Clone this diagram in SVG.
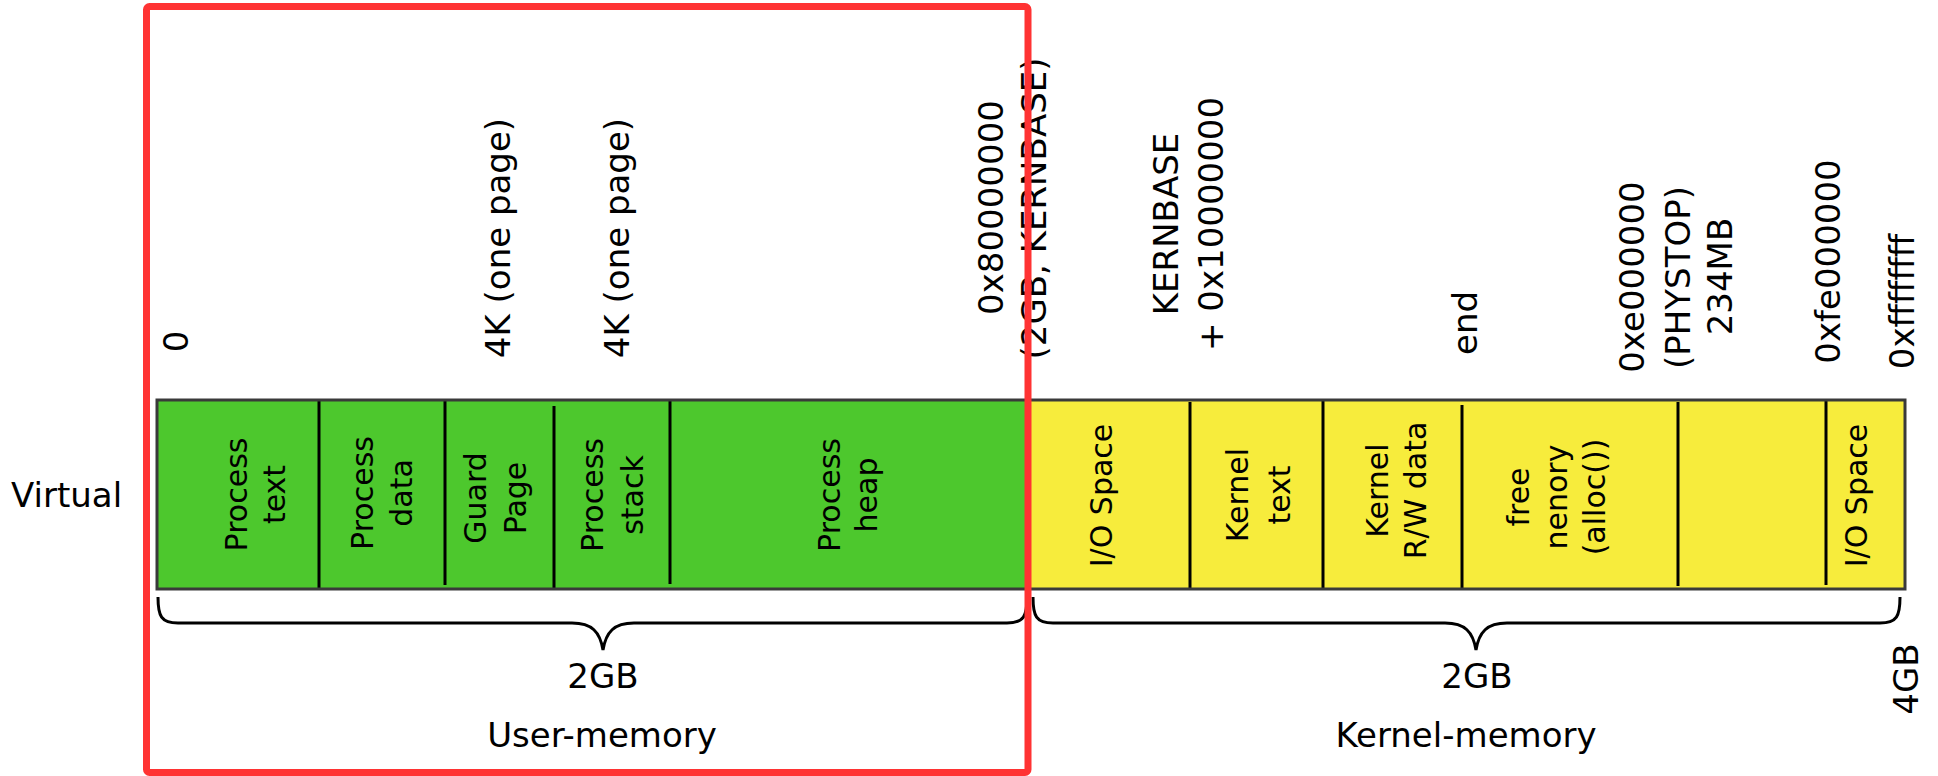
<svg xmlns="http://www.w3.org/2000/svg" width="1938" height="776" viewBox="0 0 1938 776">
<style>
text{font-family:"DejaVu Sans",Verdana,sans-serif;fill:#000}
.lbl{font-size:34px;text-anchor:middle}
.hl{font-size:34px}
.in{font-size:30px;text-anchor:middle}
.dv{stroke:#000;stroke-width:3}
.brace{fill:none;stroke:#000;stroke-width:3}
.user{fill:#4dc82d}
.kern{fill:#f7ec3c}
</style>
<rect width="1938" height="776" fill="#fff"/>

<!-- address labels -->
<g id="addresses">
<text class="lbl" transform="translate(187.5,341.5) rotate(-90)">0</text>
<text class="lbl" transform="translate(510,238) rotate(-90)">4K (one page)</text>
<text class="lbl" transform="translate(629,238) rotate(-90)">4K (one page)</text>
<text class="lbl" transform="translate(1003,207.5) rotate(-90)">0x80000000</text>
<text class="lbl" transform="translate(1046,208.5) rotate(-90)">(2GB, KERNBASE)</text>
<text class="lbl" transform="translate(1178,224) rotate(-90)">KERNBASE</text>
<text class="lbl" transform="translate(1223,224) rotate(-90)">+ 0x10000000</text>
<text class="lbl" transform="translate(1477,323) rotate(-90)">end</text>
<text class="lbl" transform="translate(1644,277) rotate(-90)">0xe000000</text>
<text class="lbl" transform="translate(1690,277.5) rotate(-90)">(PHYSTOP)</text>
<text class="lbl" transform="translate(1732,276.5) rotate(-90)">234MB</text>
<text class="lbl" transform="translate(1840,261.5) rotate(-90)">0xfe000000</text>
<text class="lbl" transform="translate(1914,301.5) rotate(-90)">0xffffffff</text>
</g>

<text id="virtual" class="hl" x="11" y="507">Virtual</text>

<g id="seg-process-text">
<rect class="user" x="157" y="400" width="162" height="189"/>
<text class="in" transform="translate(247,494.5) rotate(-90)">Process</text>
<text class="in" transform="translate(285,494.5) rotate(-90)">text</text>
</g>
<g id="seg-process-data">
<rect class="user" x="319" y="400" width="126" height="189"/>
<text class="in" transform="translate(373,493) rotate(-90)">Process</text>
<text class="in" transform="translate(412,493) rotate(-90)">data</text>
</g>
<g id="seg-guard-page">
<rect class="user" x="445" y="400" width="109" height="189"/>
<text class="in" transform="translate(486,498) rotate(-90)">Guard</text>
<text class="in" transform="translate(526,498) rotate(-90)">Page</text>
</g>
<g id="seg-process-stack">
<rect class="user" x="554" y="400" width="116" height="189"/>
<text class="in" transform="translate(603,495) rotate(-90)">Process</text>
<text class="in" transform="translate(643,495) rotate(-90)">stack</text>
</g>
<g id="seg-process-heap">
<rect class="user" x="670" y="400" width="358" height="189"/>
<text class="in" transform="translate(840,495) rotate(-90)">Process</text>
<text class="in" transform="translate(877,495) rotate(-90)">heap</text>
</g>
<g id="seg-io-space-low">
<rect class="kern" x="1028" y="400" width="162" height="189"/>
<text class="in" transform="translate(1112,495.5) rotate(-90)">I/O Space</text>
</g>
<g id="seg-kernel-text">
<rect class="kern" x="1190" y="400" width="133" height="189"/>
<text class="in" transform="translate(1248,495) rotate(-90)">Kernel</text>
<text class="in" transform="translate(1290,495) rotate(-90)">text</text>
</g>
<g id="seg-kernel-data">
<rect class="kern" x="1323" y="400" width="139" height="189"/>
<text class="in" transform="translate(1388,490.5) rotate(-90)">Kernel</text>
<text class="in" transform="translate(1426,490.5) rotate(-90)">R/W data</text>
</g>
<g id="seg-free-memory">
<rect class="kern" x="1462" y="400" width="216" height="189"/>
<text class="in" transform="translate(1529,497) rotate(-90)">free</text>
<text class="in" transform="translate(1567,497) rotate(-90)">nenory</text>
<text class="in" transform="translate(1605,497) rotate(-90)">(alloc())</text>
</g>
<g id="seg-unused">
<rect class="kern" x="1678" y="400" width="148" height="189"/>
</g>
<g id="seg-io-space-high">
<rect class="kern" x="1826" y="400" width="79" height="189"/>
<text class="in" transform="translate(1867,495.5) rotate(-90)">I/O Space</text>
</g>

<g id="dividers">
<line class="dv" x1="319" y1="400" x2="319" y2="589"/>
<line class="dv" x1="445" y1="400" x2="445" y2="585"/>
<line class="dv" x1="554" y1="406" x2="554" y2="589"/>
<line class="dv" x1="670" y1="400" x2="670" y2="584"/>
<line class="dv" x1="1190" y1="402" x2="1190" y2="589"/>
<line class="dv" x1="1323" y1="400" x2="1323" y2="589"/>
<line class="dv" x1="1462" y1="405" x2="1462" y2="589"/>
<line class="dv" x1="1678" y1="402" x2="1678" y2="586"/>
<line class="dv" x1="1826" y1="400" x2="1826" y2="585"/>
</g>
<rect id="bar-outline" x="157" y="400" width="1748" height="189" fill="none" stroke="#3a3a3a" stroke-width="3"/>

<g id="connectors">
<path class="brace" d="M158,597 C158,616 161,623 178,623 L572,623 C592,623 600,632 603,650 C606,632 614,623 634,623 L1007,623 C1024,623 1027,616 1027,597"/>
<path class="brace" d="M1033,597 C1033,616 1036,623 1053,623 L1445,623 C1465,623 1473,632 1476,650 C1479,632 1487,623 1507,623 L1880,623 C1897,623 1900,616 1900,597"/>
</g>

<g id="sizes">
<text class="lbl" x="603" y="688">2GB</text>
<text class="lbl" x="1477" y="688">2GB</text>
<text class="lbl" transform="translate(1918,679) rotate(-90)">4GB</text>
<text class="lbl" x="602" y="747">User-memory</text>
<text class="lbl" x="1466" y="747">Kernel-memory</text>
</g>

<rect id="highlight" x="146.5" y="6.5" width="881.5" height="766" rx="3" fill="none" stroke="#ff3333" stroke-width="7"/>
</svg>
